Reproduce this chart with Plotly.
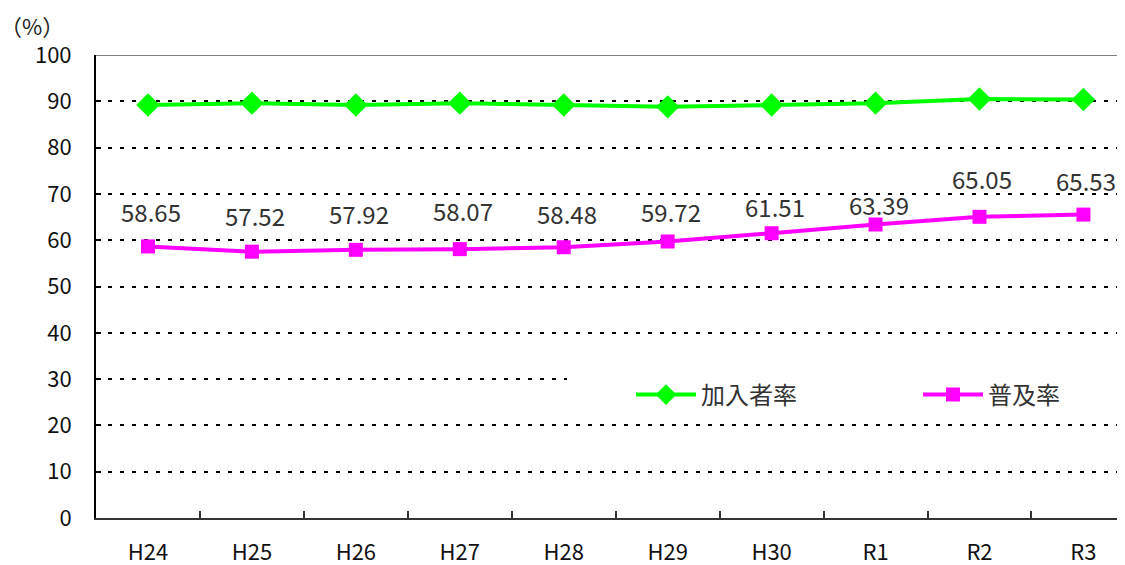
import plotly.graph_objects as go

# ---- data ----
categories = ["H24", "H25", "H26", "H27", "H28", "H29", "H30", "R1", "R2", "R3"]
kanyusha_rate = [89.2, 89.6, 89.2, 89.6, 89.2, 88.8, 89.2, 89.6, 90.5, 90.4]   # 加入者率
fukyu_rate = [58.65, 57.52, 57.92, 58.07, 58.48, 59.72, 61.51, 63.39, 65.05, 65.53]  # 普及率
series_names = ["加入者率", "普及率"]
y_ticks = [0, 10, 20, 30, 40, 50, 60, 70, 80, 90, 100]

# ---- styling (label offsets in px, not data) ----
label_yshift = [35, 36, 36, 39, 34, 30, 27, 20, 38, 34]
FONT = "Noto Sans CJK JP"
OFF = 8  # page body margin
W, H = 1125 - OFF, 565 - OFF
L, T, B = 96 - OFF, 55 - OFF, 47
PW, PH = W - L, H - T - B


def px_x(p):  # page pixel -> paper
    return (p - OFF - L) / PW


def px_y(p):
    return (H - B - (p - OFF)) / PH


fig = go.Figure()
fig.add_trace(go.Scatter(
    x=categories, y=kanyusha_rate, name=series_names[0], mode="lines+markers",
    line=dict(color="#00FF00", width=4),
    marker=dict(symbol="diamond", size=18, color="#00FF00"),
    legend="legend",
))
fig.add_trace(go.Scatter(
    x=categories, y=fukyu_rate, name=series_names[1], mode="lines+markers",
    line=dict(color="#FF00FF", width=4),
    marker=dict(symbol="square", size=14, color="#FF00FF"),
    legend="legend2",
))

annotations = []
for c, v, s in zip(categories, fukyu_rate, label_yshift):
    annotations.append(dict(
        x=c, y=v, xref="x", yref="y", text=f"{v:.2f}", showarrow=False,
        yshift=s, xshift=3, font=dict(family=FONT, size=24, color="#333333"),
    ))
annotations.append(dict(
    x=px_x(32), y=px_y(25), xref="paper", yref="paper",
    text="（%）", showarrow=False, xanchor="center", yanchor="middle",
    borderpad=0,
    font=dict(family=FONT, size=22, color="#222222"),
))

shapes = [
    dict(type="line", xref="paper", yref="y", x0=0, x1=1, y0=100, y1=100,
         line=dict(color="#808080", width=2), layer="above"),
    dict(type="rect", xref="paper", yref="y", x0=px_x(567), x1=1,
         y0=28.5, y1=31.5, fillcolor="white", line=dict(width=0), layer="above"),
]

leg_common = dict(
    orientation="h", xanchor="left", yanchor="middle",
    font=dict(family=FONT, size=24, color="#333333"),
    bgcolor="rgba(0,0,0,0)", itemwidth=60,
)

fig.update_layout(
    width=W, height=H,
    margin=dict(l=L, r=0, t=T, b=B, autoexpand=False),
    plot_bgcolor="white", paper_bgcolor="white",
    font=dict(family=FONT, color="#222222"),
    showlegend=True,
    legend=dict(x=px_x(631), y=px_y(395), **leg_common),
    legend2=dict(x=px_x(918), y=px_y(395), **leg_common),
    annotations=annotations,
    shapes=shapes,
)
fig.update_xaxes(
    type="category", categoryorder="array", categoryarray=categories,
    range=[-0.5, 9.4], showgrid=False, zeroline=False, automargin=False,
    showline=True, linecolor="#333333", linewidth=2,
    ticks="inside", tickson="boundaries", ticklen=7, tickwidth=2, tickcolor="#333333",
    tickfont=dict(family=FONT, size=22, color="#111111"),
    ticklabelstandoff=14,
)
fig.update_yaxes(
    range=[0, 100], tickvals=y_ticks, showgrid=True, automargin=False,
    gridcolor="black", gridwidth=2, griddash="4px,8px",
    zeroline=False, showline=True, linecolor="black", linewidth=2,
    ticks="inside", ticklen=5, tickwidth=2, tickcolor="black",
    tickfont=dict(family=FONT, size=22, color="#111111"),
    ticklabelstandoff=18,
)

fig.write_html("out.html")
